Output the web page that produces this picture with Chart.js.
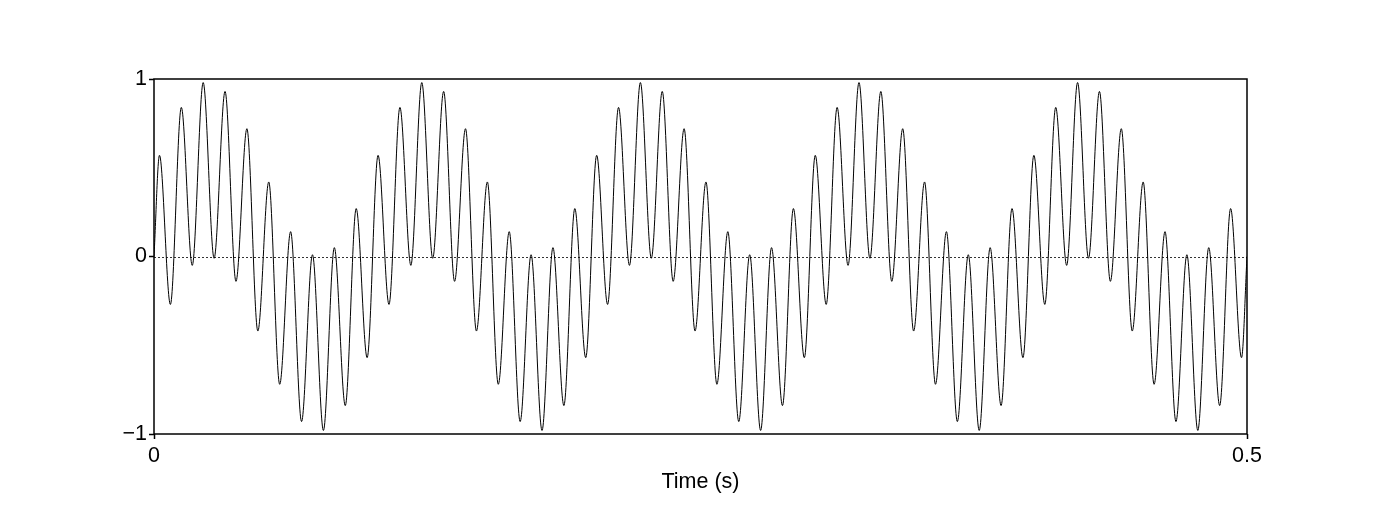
<!DOCTYPE html>
<html>
<head>
<meta charset="utf-8">
<script src="https://cdn.jsdelivr.net/npm/chart.js@4/dist/chart.umd.min.js"></script>
<style>
html,body{margin:0;padding:0;background:#fff;}
canvas{display:block;}
</style>
</head>
<body>
<canvas id="c" width="1398" height="512"></canvas>
<script>
// Time (s) of each sample (start, every fast extremum, end)
const time = [0,
0.0025,0.0075,0.0125,0.0175,0.0225,0.0275,0.0325,0.0375,0.0425,0.0475,
0.0525,0.0575,0.0625,0.0675,0.0725,0.0775,0.0825,0.0875,0.0925,0.0975,
0.1025,0.1075,0.1125,0.1175,0.1225,0.1275,0.1325,0.1375,0.1425,0.1475,
0.1525,0.1575,0.1625,0.1675,0.1725,0.1775,0.1825,0.1875,0.1925,0.1975,
0.2025,0.2075,0.2125,0.2175,0.2225,0.2275,0.2325,0.2375,0.2425,0.2475,
0.2525,0.2575,0.2625,0.2675,0.2725,0.2775,0.2825,0.2875,0.2925,0.2975,
0.3025,0.3075,0.3125,0.3175,0.3225,0.3275,0.3325,0.3375,0.3425,0.3475,
0.3525,0.3575,0.3625,0.3675,0.3725,0.3775,0.3825,0.3875,0.3925,0.3975,
0.4025,0.4075,0.4125,0.4175,0.4225,0.4275,0.4325,0.4375,0.4425,0.4475,
0.4525,0.4575,0.4625,0.4675,0.4725,0.4775,0.4825,0.4875,0.4925,0.4975,
0.5];
// Signal amplitude at each of those times
const signal = [0,
0.57,-0.27,0.84,-0.05,0.98,-0.01,0.93,-0.14,0.72,-0.42,
0.42,-0.72,0.14,-0.93,0.01,-0.98,0.05,-0.84,0.27,-0.57,
0.57,-0.27,0.84,-0.05,0.98,-0.01,0.93,-0.14,0.72,-0.42,
0.42,-0.72,0.14,-0.93,0.01,-0.98,0.05,-0.84,0.27,-0.57,
0.57,-0.27,0.84,-0.05,0.98,-0.01,0.93,-0.14,0.72,-0.42,
0.42,-0.72,0.14,-0.93,0.01,-0.98,0.05,-0.84,0.27,-0.57,
0.57,-0.27,0.84,-0.05,0.98,-0.01,0.93,-0.14,0.72,-0.42,
0.42,-0.72,0.14,-0.93,0.01,-0.98,0.05,-0.84,0.27,-0.57,
0.57,-0.27,0.84,-0.05,0.98,-0.01,0.93,-0.14,0.72,-0.42,
0.42,-0.72,0.14,-0.93,0.01,-0.98,0.05,-0.84,0.27,-0.57,
0];
const xTicks = [0, 0.5];
const yTicks = [-1, 0, 1];
const xTitle = 'Time (s)';

const points = time.map((t, i) => ({x: t, y: signal[i]}));
const FONT = {family: '"Liberation Sans", Arial, Helvetica, sans-serif', size: 21.5};

const framePlugin = {
  id: 'frame',
  beforeDatasetsDraw(chart) {
    const {ctx, chartArea: a, scales} = chart;
    const y0 = scales.y.getPixelForValue(0);
    ctx.save();
    ctx.strokeStyle = '#333';
    ctx.lineWidth = 1;
    ctx.setLineDash([2, 2]);
    ctx.beginPath();
    ctx.moveTo(a.left, Math.round(y0) + 0.5);
    ctx.lineTo(a.right, Math.round(y0) + 0.5);
    ctx.stroke();
    ctx.restore();
  },
  afterDatasetsDraw(chart) {
    const {ctx, chartArea: a} = chart;
    ctx.save();
    ctx.strokeStyle = '#000';
    ctx.lineWidth = 1.5;
    ctx.strokeRect(a.left, a.top, a.right - a.left, a.bottom - a.top);
    ctx.restore();
  }
};

new Chart(document.getElementById('c'), {
  type: 'line',
  data: {
    datasets: [{
      data: points,
      borderColor: '#000',
      borderWidth: 1,
      pointRadius: 0,
      cubicInterpolationMode: 'monotone',
      fill: false
    }]
  },
  options: {
    responsive: false,
    animation: false,
    layout: {padding: {left: 0, right: 151, top: 79, bottom: 0}},
    plugins: {legend: {display: false}, tooltip: {enabled: false}},
    scales: {
      x: {
        type: 'linear', min: 0, max: 0.5,
        afterBuildTicks(s) { s.ticks = xTicks.map(v => ({value: v})); },
        afterFit(s) { s.height = 78; },
        grid: {color: 'transparent', drawOnChartArea: false, tickColor: '#000', tickLength: 5, tickWidth: 1.5},
        border: {display: false},
        ticks: {color: '#000', font: FONT, padding: 4, maxRotation: 0,
          callback: v => String(v)},
        title: {display: true, text: xTitle, color: '#000', font: FONT, padding: {top: 0, bottom: 17}}
      },
      y: {
        type: 'linear', min: -1, max: 1,
        afterBuildTicks(s) { s.ticks = yTicks.map(v => ({value: v})); },
        afterFit(s) { s.width = 154; },
        grid: {color: 'transparent', drawOnChartArea: false, tickColor: '#000', tickLength: 5, tickWidth: 1.5},
        border: {display: false},
        ticks: {color: '#000', font: FONT, padding: 2,
          callback: v => v < 0 ? '\u2212' + Math.abs(v) : String(v)}
      }
    }
  },
  plugins: [framePlugin]
});
</script>
</body>
</html>
